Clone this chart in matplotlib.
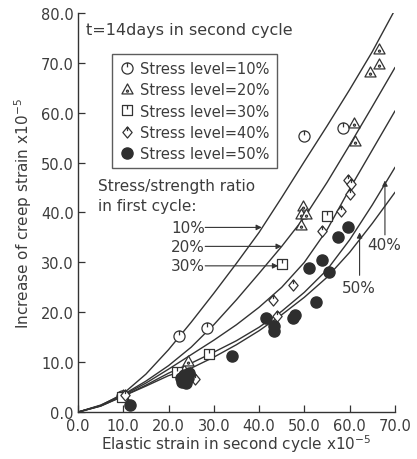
import matplotlib
matplotlib.use("Agg")
import matplotlib.pyplot as plt
import numpy as np
from matplotlib.path import Path
from matplotlib.ticker import FormatStrFormatter

# measured points, creep strain increase vs elastic strain (both x10^-5)
s10_x = [9.7, 22.3, 28.5, 49.9, 58.6]
s10_y = [3.2, 15.2, 16.8, 55.3, 57.0]

s20_x = [10.0, 23.5, 24.3, 49.8, 49.2, 50.3, 49.2, 60.9, 61.1, 64.5, 66.4, 66.4]
s20_y = [3.5, 8.5, 10.2, 41.2, 39.6, 39.6, 37.5, 57.9, 54.3, 68.1, 69.7, 72.7]

s30_x = [9.8, 21.8, 28.9, 45.0, 55.0]
s30_y = [3.0, 8.0, 11.6, 29.6, 39.3]

s40_x = [10.3, 24.8, 25.8, 43.1, 44.0, 47.5, 54.0, 58.0, 59.7, 60.4, 60.0]
s40_y = [3.4, 7.8, 6.6, 22.4, 19.2, 25.4, 36.2, 40.2, 46.4, 45.7, 43.7]

s50_x = [11.5, 22.8, 23.5, 24.2, 23.0, 24.5, 23.8, 34.0, 41.6, 43.3, 43.3,
         47.4, 47.9, 52.5, 51.1, 54.0, 55.4, 57.5, 59.6]
s50_y = [1.4, 6.8, 7.4, 6.9, 6.0, 7.8, 5.8, 11.3, 18.8, 17.2, 16.2,
         18.8, 19.4, 22.0, 28.8, 30.5, 28.1, 35.0, 37.0]

# fitted curves, one per first-cycle stress/strength ratio
curve_x = [0, 5, 10, 15, 20, 25, 30, 35, 40, 45, 50, 55, 60, 65, 70]
c10_y = [0, 1.3, 3.7, 7.6, 12.5, 18.0, 23.8, 29.8, 36.0, 43.0, 50.2, 57.3, 64.6, 72.2, 80.6]
c20_y = [0, 1.4, 3.5, 6.2, 9.3, 13.0, 17.5, 22.5, 27.8, 33.2, 39.0, 46.0, 53.5, 61.2, 69.0]
c30_y = [0, 1.3, 3.4, 5.8, 8.6, 11.5, 14.4, 17.5, 21.0, 25.0, 30.0, 36.5, 44.7, 52.5, 60.3]
c40_y = [0, 1.2, 3.2, 5.4, 7.8, 9.8, 12.0, 14.3, 17.0, 20.2, 24.0, 28.5, 34.5, 41.5, 49.0]
c50_y = [0, 1.2, 3.2, 5.2, 7.3, 8.8, 11.0, 13.5, 16.3, 19.5, 23.0, 27.0, 32.0, 37.8, 44.0]

legend_labels = ["Stress level=10%", "Stress level=20%", "Stress level=30%",
                 "Stress level=40%", "Stress level=50%"]

ink = "#333333"
txt = "#3c3c3c"

# marker shapes that look like the drafting symbols
tick = Path([[0, 1.0], [0, 0.2]], [Path.MOVETO, Path.LINETO])
m_circle = Path.make_compound_path(Path.unit_circle(), tick)
tri = Path([[-1, -0.8], [1, -0.8], [0, 1.0], [-1, -0.8]],
           [Path.MOVETO, Path.LINETO, Path.LINETO, Path.CLOSEPOLY])
m_tri = Path.make_compound_path(tri, Path.circle((0, -0.3), 0.18))
sq = Path([[-1, -1], [1, -1], [1, 1], [-1, 1], [-1, -1]],
          [Path.MOVETO, Path.LINETO, Path.LINETO, Path.LINETO, Path.CLOSEPOLY])
m_sq = Path.make_compound_path(sq, tick)
dia = Path([[0, -1.2], [1, 0], [0, 1.2], [-1, 0], [0, -1.2]],
           [Path.MOVETO, Path.LINETO, Path.LINETO, Path.LINETO, Path.CLOSEPOLY])
m_dia = Path.make_compound_path(dia, Path([[0, 1.2], [0, 0.3]], [Path.MOVETO, Path.LINETO]))

fig = plt.figure(figsize=(4.17, 4.60), dpi=100)
ax = fig.add_axes([0.187, 0.102, 0.760, 0.868])

for cy in [c10_y, c20_y, c30_y, c40_y, c50_y]:
    ax.plot(curve_x, cy, color=ink, lw=1.0, zorder=2)

mk = dict(ls="none", mec=ink, mfc="white", mew=0.9, zorder=3)
ax.plot(s10_x, s10_y, marker=m_circle, ms=8, label=legend_labels[0], **mk)
ax.plot(s20_x, s20_y, marker=m_tri, ms=8, label=legend_labels[1], **mk)
ax.plot(s30_x, s30_y, marker=m_sq, ms=7.5, label=legend_labels[2], **mk)
ax.plot(s40_x, s40_y, marker=m_dia, ms=8, label=legend_labels[3], **mk)
ax.plot(s50_x, s50_y, ls="none", marker="o", ms=8, mfc="#2e2e2e", mec="#2e2e2e",
        label=legend_labels[4], zorder=3)

ax.set_xlim(0, 70)
ax.set_ylim(0, 80)
ax.set_xticks(np.arange(0, 71, 10))
ax.set_yticks(np.arange(0, 81, 10))
ax.xaxis.set_major_formatter(FormatStrFormatter("%.1f"))
ax.yaxis.set_major_formatter(FormatStrFormatter("%.1f"))
ax.tick_params(direction="in", length=5, width=0.9, color=ink, labelsize=10.5,
               labelcolor=txt)
ax.tick_params(axis="x", pad=4)
ax.tick_params(axis="y", pad=3)
ax.spines["top"].set_visible(False)
ax.spines["right"].set_visible(False)
for s in ["left", "bottom"]:
    ax.spines[s].set_color(ink)
    ax.spines[s].set_linewidth(1.0)

ax.set_xlabel("Elastic strain in second cycle x10$^{-5}$", fontsize=11, color=txt, labelpad=0)
ax.set_ylabel("Increase of creep strain x10$^{-5}$", fontsize=11, color=txt, labelpad=5)

ax.text(1.8, 76.6, "t=14days in second cycle", fontsize=11.5, color=txt, va="center")

leg = ax.legend(loc="upper left", bbox_to_anchor=(0.085, 0.915), fontsize=10.5,
                frameon=True, fancybox=False, edgecolor=ink, labelcolor=txt,
                handlelength=1.0, handletextpad=0.4, borderpad=0.5, labelspacing=0.42)
leg.get_frame().set_linewidth(1.0)

ax.text(4.4, 45.3, "Stress/strength ratio", fontsize=11, color=txt, va="center")
ax.text(4.4, 41.3, "in first cycle:", fontsize=11, color=txt, va="center")

arrow = dict(arrowstyle="-|>", lw=0.8, color=ink, mutation_scale=8, shrinkA=0, shrinkB=0)
for lab, ly, ex in [("10%", 37.0, 40.6), ("20%", 33.2, 45.0), ("30%", 29.3, 44.2)]:
    ax.text(28.0, ly, lab, fontsize=11, color=txt, ha="right", va="center")
    ax.annotate("", xy=(ex, ly), xytext=(28.1, ly), arrowprops=arrow)

ax.text(64.0, 33.6, "40%", fontsize=11, color=txt, va="center")
ax.annotate("", xy=(67.8, 46.4), xytext=(67.8, 35.5), arrowprops=arrow)
ax.text(58.3, 25.0, "50%", fontsize=11, color=txt, va="center")
ax.annotate("", xy=(62.2, 36.0), xytext=(62.2, 27.4), arrowprops=arrow)

fig.savefig("out.png", dpi=100)
